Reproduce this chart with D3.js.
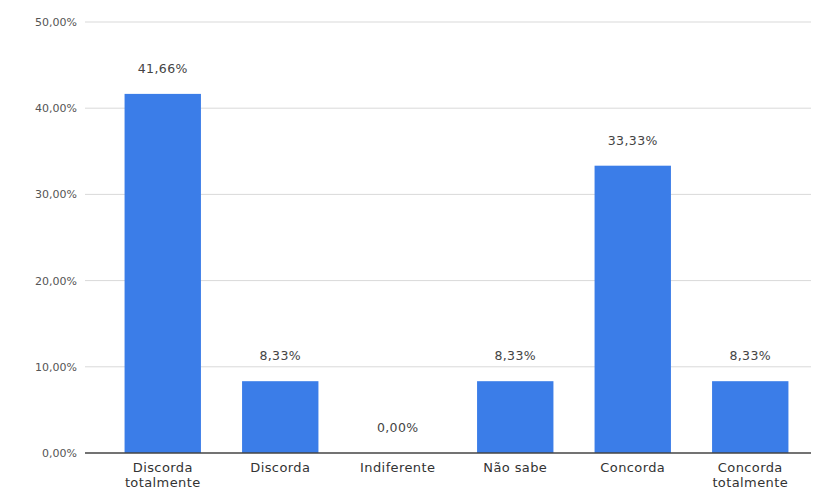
<!DOCTYPE html>
<html><head><meta charset="utf-8">
<script src="https://cdn.jsdelivr.net/npm/d3@7"></script>
<style>body{margin:0;background:#fff}svg{display:block}text{font-family:"DejaVu Sans",Arial,sans-serif}</style>
</head><body><div id="chart"></div>
<script>
const categories = [["Discorda","totalmente"],["Discorda"],["Indiferente"],["Não sabe"],["Concorda"],["Concorda","totalmente"]];
const values = [41.66, 8.33, 0, 8.33, 33.33, 8.33];
const yTicks = [0, 10, 20, 30, 40, 50];

const W = 821, H = 494;
const svg = d3.select("#chart").append("svg").attr("width", W).attr("height", H);
const keys = categories.map(c => c.join(" "));
const x = d3.scaleBand().domain(keys).range([104, 809]).paddingInner(0.35).paddingOuter(0.175);
const y = d3.scaleLinear().domain([0, 50]).range([453, 22]);
const fmt = v => v.toFixed(2).replace(".", ",") + "%";

const grid = svg.append("g");
grid.selectAll("line").data(yTicks.filter(t => t > 0)).join("line")
  .attr("x1", 85).attr("x2", 811).attr("y1", d => y(d)).attr("y2", d => y(d))
  .attr("stroke", "#d9d9d9").attr("stroke-width", 1);

const yAxis = svg.append("g").attr("transform", "translate(77,0)")
  .call(d3.axisLeft(y).tickValues(yTicks).tickFormat(fmt).tickSize(0).tickPadding(0));
yAxis.select(".domain").remove();
yAxis.selectAll("text").attr("font-size", 11).attr("fill", "#555").attr("font-family", "DejaVu Sans");

svg.selectAll("rect.bar").data(values).join("rect").attr("class", "bar")
  .attr("x", (d, i) => x(keys[i])).attr("width", x.bandwidth())
  .attr("y", d => y(d)).attr("height", d => y(0) - y(d))
  .attr("fill", "#3b7de8");

svg.selectAll("text.val").data(values).join("text").attr("class", "val")
  .attr("x", (d, i) => x(keys[i]) + x.bandwidth() / 2)
  .attr("y", d => y(d) - 21)
  .attr("text-anchor", "middle").attr("font-size", 12.5).attr("letter-spacing", 0.4).attr("fill", "#444")
  .text(d => fmt(d));

const xAxis = svg.append("g").attr("transform", "translate(0,453)")
  .call(d3.axisBottom(x).tickSize(0).tickFormat(""));
xAxis.select(".domain").remove();
svg.append("line").attr("x1", 85).attr("x2", 811).attr("y1", y(0)).attr("y2", y(0))
  .attr("stroke", "#444").attr("stroke-width", 1.3);

const lbl = svg.append("g");
categories.forEach((c, i) => {
  const cx = x(keys[i]) + x.bandwidth() / 2;
  const t = lbl.append("text").attr("x", cx).attr("y", 472)
    .attr("text-anchor", "middle").attr("font-size", 13).attr("letter-spacing", 0.4).attr("fill", "#333");
  c.forEach((line, j) => t.append("tspan").attr("x", cx).attr("dy", j ? 15 : 0).text(line));
});
</script></body></html>
